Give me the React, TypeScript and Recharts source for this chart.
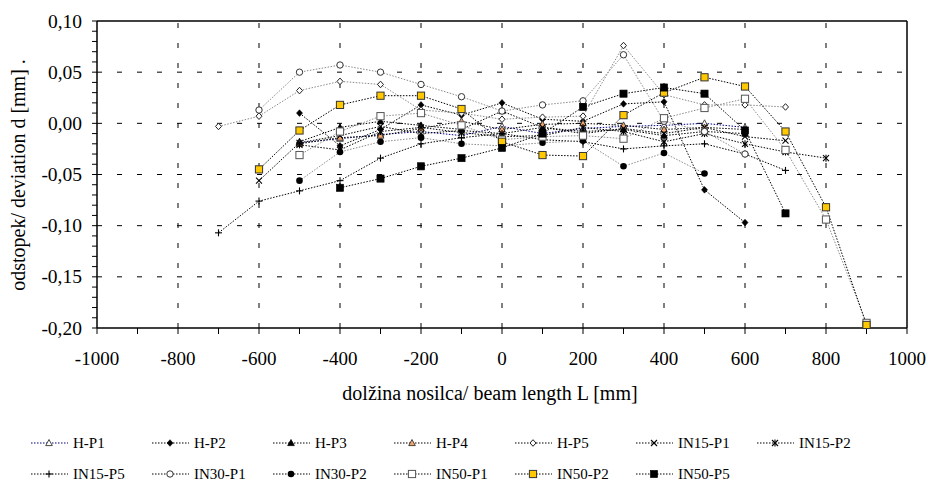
import React from 'react';
import { LineChart, Line, XAxis, YAxis, ReferenceLine } from 'recharts';

// beam positions L [mm]
const positions = [-700, -600, -500, -400, -300, -200, -100, 0, 100, 200, 300, 400, 500, 600, 700, 800, 900];

// deviation d [mm] for each series (null = no measurement)
const hP1 = [null, null, -0.019, -0.015, -0.011, -0.008, -0.012, -0.003, -0.010, -0.005, -0.003, -0.002, 0.000, -0.004, null, null, null];
const hP2 = [null, null, 0.010, -0.022, -0.006, 0.018, 0.008, 0.020, 0.004, 0.002, 0.019, 0.021, -0.065, -0.097, null, null, null];
const hP3 = [null, null, -0.018, -0.004, 0.002, -0.002, -0.006, 0.012, -0.004, -0.008, -0.006, -0.012, -0.008, -0.010, null, null, null];
const hP4 = [null, null, -0.020, -0.014, -0.012, -0.005, 0.002, -0.006, -0.001, 0.000, -0.002, -0.006, -0.004, -0.006, null, null, null];
const hP5 = [-0.003, 0.007, 0.032, 0.041, 0.038, 0.013, 0.010, 0.004, 0.006, 0.007, 0.076, 0.028, 0.018, 0.018, 0.016, null, null];
const in15P1 = [null, -0.056, -0.019, -0.012, -0.003, -0.010, -0.007, -0.010, -0.004, -0.010, -0.005, -0.010, -0.004, -0.013, -0.017, null, null];
const in15P2 = [null, null, -0.021, -0.026, -0.008, -0.004, -0.009, -0.013, -0.012, -0.004, -0.008, -0.018, -0.010, -0.020, -0.028, -0.034, null];
const in15P5 = [-0.107, -0.076, -0.066, -0.056, -0.034, -0.020, -0.014, -0.010, -0.016, -0.018, -0.025, -0.022, -0.020, -0.030, -0.046, null, null];
const in30P1 = [null, 0.013, 0.050, 0.057, 0.050, 0.038, 0.026, 0.012, 0.018, 0.022, 0.067, 0.002, -0.008, -0.030, null, null, null];
const in30P2 = [null, null, -0.056, -0.028, -0.018, -0.014, -0.020, -0.022, -0.019, -0.017, -0.042, -0.029, -0.049, null, null, null, null];
const in50P1 = [null, null, -0.031, -0.008, 0.007, 0.010, -0.002, -0.016, -0.013, -0.012, -0.015, 0.005, 0.015, 0.024, -0.026, -0.094, -0.195];
const in50P2 = [null, -0.045, -0.007, 0.018, 0.027, 0.027, 0.014, -0.018, -0.031, -0.032, 0.008, 0.030, 0.045, 0.036, -0.008, -0.082, -0.197];
const in50P5 = [null, null, null, -0.063, -0.054, -0.042, -0.034, -0.024, -0.010, 0.016, 0.029, 0.035, 0.029, -0.007, -0.088, null, null];

const seriesNames = ['H-P1', 'H-P2', 'H-P3', 'H-P4', 'H-P5', 'IN15-P1', 'IN15-P2', 'IN15-P5', 'IN30-P1', 'IN30-P2', 'IN50-P1', 'IN50-P2', 'IN50-P5'];
const seriesValues = [hP1, hP2, hP3, hP4, hP5, in15P1, in15P2, in15P5, in30P1, in30P2, in50P1, in50P2, in50P5];
const seriesMarkers = ['triOpen', 'diamondFilled', 'triFilled', 'triOrange', 'diamondOpen', 'cross', 'asterisk', 'plus', 'circleOpen', 'circleFilled', 'squareOpen', 'squareYellow', 'squareFilled'];
const seriesColors = ['#000080', '#000', '#000', '#000', '#8a8a8a', '#000', '#000', '#000', '#8a8a8a', '#8a8a8a', '#8a8a8a', '#000', '#000'];

const xTicks = [-1000, -900, -800, -700, -600, -500, -400, -300, -200, -100, 0, 100, 200, 300, 400, 500, 600, 700, 800, 900, 1000];
const xMajorTicks = [-1000, -800, -600, -400, -200, 0, 200, 400, 600, 800, 1000];
const yTicks = [-0.2, -0.19, -0.18, -0.17, -0.16, -0.15, -0.14, -0.13, -0.12, -0.11, -0.1, -0.09, -0.08, -0.07, -0.06, -0.05, -0.04, -0.03, -0.02, -0.01, 0, 0.01, 0.02, 0.03, 0.04, 0.05, 0.06, 0.07, 0.08, 0.09, 0.1];
const yMajorTicks = [-0.2, -0.15, -0.1, -0.05, 0, 0.05, 0.1];
const xGrid = [-800, -600, -400, -200, 0, 200, 400, 600, 800];
const yGrid = [0.05, 0, -0.05, -0.1, -0.15];

const xTitle = 'dolžina nosilca/ beam length L [mm]';
const yTitle = 'odstopek/ deviation d [mm] .';

const data = positions.map((x, i) => {
  const row: Record<string, number | null> = { x };
  seriesNames.forEach((n, k) => {
    row[n] = seriesValues[k][i];
  });
  return row;
});

const FONT = '"Liberation Serif", "DejaVu Serif", "Times New Roman", serif';
const textStyle = { fontFamily: FONT };

function Marker({ kind, cx, cy }: { kind: string; cx: number; cy: number }) {
  switch (kind) {
    case 'triOpen':
      return <polygon points={`${cx},${cy - 3.5} ${cx + 3.3},${cy + 2.6} ${cx - 3.3},${cy + 2.6}`} fill="#fff" stroke="#333" strokeWidth={0.9} />;
    case 'triFilled':
      return <polygon points={`${cx},${cy - 3.5} ${cx + 3.3},${cy + 2.6} ${cx - 3.3},${cy + 2.6}`} fill="#000" stroke="#000" strokeWidth={0.8} />;
    case 'triOrange':
      return <polygon points={`${cx},${cy - 3.5} ${cx + 3.3},${cy + 2.6} ${cx - 3.3},${cy + 2.6}`} fill="#f4a66a" stroke="#333" strokeWidth={0.9} />;
    case 'diamondFilled':
      return <polygon points={`${cx},${cy - 3.3} ${cx + 3},${cy} ${cx},${cy + 3.3} ${cx - 3},${cy}`} fill="#000" stroke="#000" strokeWidth={0.6} />;
    case 'diamondOpen':
      return <polygon points={`${cx},${cy - 3.3} ${cx + 3},${cy} ${cx},${cy + 3.3} ${cx - 3},${cy}`} fill="#fff" stroke="#222" strokeWidth={1} />;
    case 'cross':
      return (
        <g stroke="#000" strokeWidth={1.1}>
          <line x1={cx - 3} y1={cy - 3} x2={cx + 3} y2={cy + 3} />
          <line x1={cx - 3} y1={cy + 3} x2={cx + 3} y2={cy - 3} />
        </g>
      );
    case 'asterisk':
      return (
        <g stroke="#000" strokeWidth={1.1}>
          <line x1={cx - 3} y1={cy - 3} x2={cx + 3} y2={cy + 3} />
          <line x1={cx - 3} y1={cy + 3} x2={cx + 3} y2={cy - 3} />
          <line x1={cx} y1={cy - 3.5} x2={cx} y2={cy + 3.5} />
        </g>
      );
    case 'plus':
      return (
        <g stroke="#000" strokeWidth={1.1}>
          <line x1={cx - 3.5} y1={cy} x2={cx + 3.5} y2={cy} />
          <line x1={cx} y1={cy - 3.5} x2={cx} y2={cy + 3.5} />
        </g>
      );
    case 'circleOpen':
      return <circle cx={cx} cy={cy} r={3.2} fill="#fff" stroke="#333" strokeWidth={1} />;
    case 'circleFilled':
      return <circle cx={cx} cy={cy} r={3.3} fill="#000" />;
    case 'squareOpen':
      return <rect x={cx - 3.6} y={cy - 3.6} width={7.2} height={7.2} fill="#fff" stroke="#555" strokeWidth={1} />;
    case 'squareYellow':
      return <rect x={cx - 3.6} y={cy - 3.6} width={7.2} height={7.2} fill="#ffc800" stroke="#333" strokeWidth={1} />;
    case 'squareFilled':
      return <rect x={cx - 3.6} y={cy - 3.6} width={7.2} height={7.2} fill="#000" stroke="#000" strokeWidth={0.6} />;
    default:
      return null;
  }
}

const fmtY = (v: number) => v.toFixed(2).replace('.', ',').replace('-0,00', '0,00');
const isMajorX = (v: number) => xMajorTicks.includes(v);
const isMajorY = (v: number) => yMajorTicks.some((m) => Math.abs(m - v) < 1e-9);

const XTick = (props: any) => {
  const { x, y, payload } = props;
  if (!isMajorX(payload.value)) return <g />;
  return (
    <text x={x} y={y + 29} textAnchor="middle" style={textStyle} fontSize={19} fill="#000">
      {String(payload.value)}
    </text>
  );
};

const YTick = (props: any) => {
  const { x, y, payload } = props;
  if (!isMajorY(payload.value)) return <g />;
  return (
    <text x={x} y={y + 6.5} textAnchor="end" style={textStyle} fontSize={19.5} fill="#000">
      {fmtY(payload.value)}
    </text>
  );
};

const XTitle = () => (
  <text x={490} y={400} textAnchor="middle" style={textStyle} fontSize={20} fill="#000">
    {xTitle}
  </text>
);

const YTitle = () => (
  <text x={25} y={175} textAnchor="middle" style={textStyle} fontSize={20} fill="#000" transform="rotate(-90 25 175)">
    {yTitle}
  </text>
);

function makeDot(name: string, kind: string) {
  return (p: any) => {
    const k = `${name}-${p.index}`;
    if (p.value == null || p.cy == null || Number.isNaN(p.cy)) return <g key={k} />;
    return (
      <g key={k}>
        <Marker kind={kind} cx={p.cx} cy={p.cy} />
      </g>
    );
  };
}

const Legend = () => {
  const rows = [seriesNames.slice(0, 7), seriesNames.slice(7)];
  const rowY = [443, 474];
  return (
    <svg width={928} height={484} style={{ position: 'absolute', left: 0, top: 0, pointerEvents: 'none' }}>
      {rows.map((row, r) =>
        row.map((name, c) => {
          const idx = seriesNames.indexOf(name);
          const x0 = 31 + 121 * c;
          const y = rowY[r];
          return (
            <g key={name}>
              <line x1={x0} y1={y} x2={x0 + 37} y2={y} stroke={seriesColors[idx] === '#8a8a8a' ? '#000' : seriesColors[idx]} strokeWidth={1} strokeDasharray="1.5 1.5" />
              <Marker kind={seriesMarkers[idx]} cx={x0 + 18} cy={y} />
              <text x={x0 + 42} y={y + 5} style={textStyle} fontSize={15} fill="#000">
                {name}
              </text>
            </g>
          );
        })
      )}
    </svg>
  );
};

export default function App() {
  return (
    <div style={{ position: 'fixed', left: 0, top: 0, width: 928, height: 484, background: '#fff', fontFamily: FONT }}>
      <LineChart width={928} height={484} data={data} margin={{ top: 21, right: 21, left: 27, bottom: 126 }} style={{ fontFamily: FONT }}>
        <XAxis
          type="number"
          dataKey="x"
          domain={[-1000, 1000]}
          ticks={xTicks}
          interval={0}
          tickSize={6}
          tickMargin={2}
          tick={XTick}
          height={30}
          axisLine={{ stroke: '#000', strokeWidth: 1.5 }}
          tickLine={{ stroke: '#000', strokeWidth: 1 }}
          label={<XTitle />}
        />
        <YAxis
          type="number"
          domain={[-0.2, 0.1]}
          ticks={yTicks}
          interval={0}
          width={70}
          tickSize={5}
          tickMargin={10}
          tick={YTick}
          axisLine={{ stroke: '#000', strokeWidth: 1.5 }}
          tickLine={{ stroke: '#000', strokeWidth: 1 }}
          label={<YTitle />}
        />
        {xGrid.map((v) => (
          <ReferenceLine key={`gx${v}`} x={v} stroke="#000" strokeWidth={1} strokeDasharray="5 15" />
        ))}
        {yGrid.map((v) => (
          <ReferenceLine key={`gy${v}`} y={v} stroke="#000" strokeWidth={1} strokeDasharray="5 15" />
        ))}
        <ReferenceLine y={0.1} stroke="#000" strokeWidth={1.5} />
        <ReferenceLine x={1000} stroke="#000" strokeWidth={1.5} />
        {seriesNames.map((name, k) => (
          <Line
            key={name}
            type="linear"
            dataKey={name}
            stroke={seriesColors[k]}
            strokeWidth={1}
            strokeDasharray="1.5 1.5"
            dot={makeDot(name, seriesMarkers[k])}
            activeDot={false}
            isAnimationActive={false}
            connectNulls={false}
          />
        ))}
      </LineChart>
      <Legend />
    </div>
  );
}
